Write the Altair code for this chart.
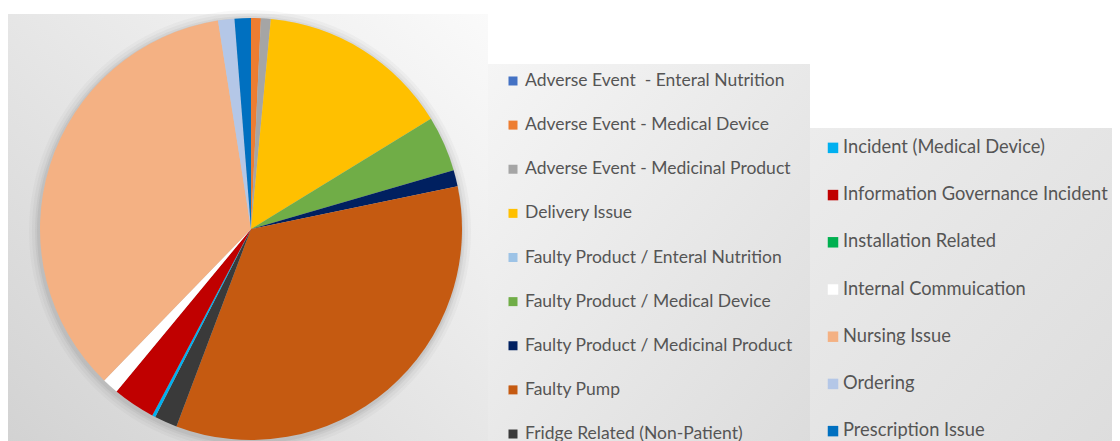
import altair as alt
import pandas as pd

categories = [
    "Adverse Event \u00a0- Enteral Nutrition",
    "Adverse Event - Medical Device",
    "Adverse Event - Medicinal Product",
    "Delivery Issue",
    "Faulty Product / Enteral Nutrition",
    "Faulty Product / Medical Device",
    "Faulty Product / Medicinal Product",
    "Faulty Pump",
    "Fridge Related (Non-Patient)",
    "Incident (Medical Device)",
    "Information Governance Incident",
    "Installation Related",
    "Internal Commuication",
    "Nursing Issue",
    "Ordering",
    "Prescription Issue",
]
counts = [0, 3, 3, 59, 0, 17, 5, 136, 7, 1, 13, 0, 5, 141, 5, 5]
colors = [
    "#4472C4", "#ED7D31", "#A5A5A5", "#FFC000", "#9DC3E6", "#70AD47",
    "#002060", "#C55A11", "#3A3A3A", "#00B0F0", "#C00000", "#00B050",
    "#FFFFFF", "#F4B183", "#B4C7E7", "#0070C0",
]
col1_items = categories[:9]
col2_items = categories[9:]

df = pd.DataFrame({"category": categories, "count": counts, "idx": list(range(len(categories)))})
color_scale = alt.Scale(domain=categories, range=colors)
one = pd.DataFrame({"k": [0]})

FONT = "Lato"
TEXT_COLOR = "#555555"


def grad(c1, c2, x1, y1, x2, y2):
    return alt.LinearGradient(
        gradient="linear",
        stops=[alt.GradientStop(color=c1, offset=0), alt.GradientStop(color=c2, offset=1)],
        x1=x1, y1=y1, x2=x2, y2=y2,
    )


def backdrop(g):
    return alt.Chart(one).mark_rect(fill=g).encode(
        x=alt.value(0), x2=alt.value("width"), y=alt.value(0), y2=alt.value("height")
    )


CX, CY, R = 243, 215, 211

shadows = [
    alt.Chart(df).mark_arc(radius=R + rr, color="#7f7f7f", opacity=op).encode(
        theta=alt.Theta("sum(count):Q"), x=alt.value(CX - 1), y=alt.value(CY + 2)
    )
    for rr, op in [(10, 0.05), (7, 0.07), (4, 0.1), (2, 0.12)]
]

pie = alt.Chart(df).mark_arc(radius=R).encode(
    theta=alt.Theta("count:Q", stack=True),
    order=alt.Order("idx:Q"),
    color=alt.Color("category:N", scale=color_scale, legend=None),
    x=alt.value(CX),
    y=alt.value(CY),
)

pie_panel = alt.layer(
    backdrop(grad("#fafafa", "#d2d2d2", 1, 0, 0, 1)), *shadows, pie
).properties(width=480, height=437)


def legend_col(items, height, pad, sq_x, sq_size, txt_x, font_size, width, g):
    d = df[df["category"].isin(items)]
    y = alt.Y("category:N", sort=items,
              scale=alt.Scale(type="point", domain=items, padding=pad), axis=None)
    sq = alt.Chart(d).mark_square(size=sq_size, opacity=1).encode(
        y=y, x=alt.value(sq_x),
        color=alt.Color("category:N", scale=color_scale, legend=None),
    )
    tx = alt.Chart(d).mark_text(
        align="left", baseline="middle", font=FONT, fontSize=font_size, color=TEXT_COLOR
    ).encode(y=y, x=alt.value(txt_x), text="category:N")
    return alt.layer(backdrop(g), sq, tx).properties(width=width, height=height)


def spacer(w, h):
    return alt.Chart(pd.DataFrame({"s": [""]})).mark_text().encode(text="s:N").properties(
        width=w, height=h
    )


col1 = legend_col(col1_items, 387, 0.385, 25, 81, 37, 17.5, 322,
                  grad("#f5f5f5", "#dcdcdc", 0, 0, 1, 1))
col2 = legend_col(col2_items, 323, 0.421, 23, 110, 33, 18.3, 302,
                  grad("#ececec", "#dddddd", 0, 0, 1, 1))

chart = alt.hconcat(
    pie_panel,
    alt.vconcat(spacer(322, 50), col1, spacing=0),
    alt.vconcat(spacer(302, 114), col2, spacing=0),
    spacing=0,
).configure_view(strokeWidth=0).properties(
    padding={"left": 0, "top": 2, "right": 0, "bottom": 0}, background="white"
)

chart.save("out.html", embed_options={"renderer": "svg", "actions": False})
